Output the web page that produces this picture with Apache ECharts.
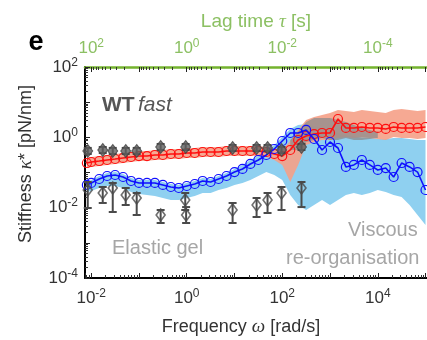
<!DOCTYPE html>
<html>
<head>
<meta charset="utf-8">
<script src="https://cdn.jsdelivr.net/npm/echarts@6.0.0/dist/echarts.min.js"></script>
<style>
  html, body { margin: 0; padding: 0; background: #fff; }
  #chart { width: 427px; height: 340px; }
</style>
</head>
<body>
<div id="chart"></div>
<script>
// frequency grid of the two fitted curves (rad/s)
const omega = [0.0081, 0.01, 0.0147, 0.0215, 0.0316, 0.0464, 0.0681, 0.1, 0.147, 0.215, 0.316, 0.464, 0.681,
  1, 1.47, 2.15, 3.16, 4.64, 6.81, 10, 14.7, 21.5, 31.6, 46.4, 68.1, 100, 147, 215, 316, 464, 681,
  1000, 1470, 2150, 3160, 4640, 6810, 10000, 14700, 21500, 31600, 46400, 68100, 100000];

// red curve and its band (pN/nm)
const stiffRed = [0.186, 0.199, 0.212, 0.227, 0.242, 0.259, 0.276, 0.294, 0.294, 0.315, 0.315, 0.336, 0.336,
  0.359, 0.359, 0.383, 0.383, 0.383, 0.409, 0.409, 0.409, 0.409, 0.409, 0.383, 0.336, 0.294, 0.437, 0.839,
  1.09, 1.24, 1.33, 1.33, 3.32, 1.85, 1.85, 1.97, 1.85, 1.85, 1.73, 1.97, 1.85, 1.85, 1.85, 1.97];
const redHi = [0.259, 0.276, 0.295, 0.315, 0.336, 0.359, 0.383, 0.409, 0.409, 0.436, 0.436, 0.466, 0.466,
  0.497, 0.497, 0.531, 0.531, 0.531, 0.567, 0.567, 0.567, 0.567, 0.567, 0.531, 0.466, 0.436, 0.787, 1.62,
  3.11, 3.79, 4.32, 4.92, 5.98, 5.61, 5.25, 5.98, 5.61, 5.25, 4.92, 5.98, 6.39, 5.98, 5.61, 5.98];
const redLo = [0.134, 0.144, 0.153, 0.164, 0.175, 0.186, 0.199, 0.212, 0.212, 0.227, 0.227, 0.242, 0.242,
  0.259, 0.259, 0.276, 0.276, 0.276, 0.295, 0.295, 0.295, 0.295, 0.295, 0.276, 0.227, 0.164, 0.0537, 0.164,
  0.605, 0.737, 0.84, 0.84, 0.958, 1.02, 0.958, 1.02, 0.958, 0.897, 0.84, 1.02, 0.958, 0.958, 0.897, 0.958];

// blue curve and its band
const stiffBlue = [0.0442, 0.0504, 0.0654, 0.0796, 0.0849, 0.0745, 0.0574, 0.0504, 0.0504, 0.0504, 0.0442,
  0.0387, 0.0363, 0.0413, 0.0471, 0.0574, 0.0537, 0.0654, 0.0796, 0.103, 0.126, 0.175, 0.227, 0.315, 0.466,
  0.787, 1.33, 1.33, 1.62, 0.897, 0.436, 0.737, 0.497, 0.144, 0.164, 0.227, 0.164, 0.118, 0.134, 0.0745,
  0.186, 0.144, 0.103, 0.0318];
const blueHi = [0.0537, 0.0612, 0.0796, 0.0968, 0.103, 0.0907, 0.0698, 0.0612, 0.0612, 0.0612, 0.0537,
  0.0471, 0.0441, 0.0503, 0.0574, 0.0698, 0.0655, 0.0796, 0.0968, 0.126, 0.164, 0.227, 0.295, 0.409, 0.605,
  1.02, 1.73, 2.24, 2.39, 2.1, 1.84, 1.62, 1.33, 1.17, 1.09, 0.958, 0.958, 0.897, 0.897, 0.958, 0.958,
  0.897, 0.84, 0.84];
const blueLo = [0.0279, 0.0298, 0.0363, 0.0413, 0.0413, 0.0363, 0.0279, 0.0245, 0.0229, 0.0215, 0.0188,
  0.0165, 0.0165, 0.0188, 0.0215, 0.0261, 0.0261, 0.0318, 0.0363, 0.0441, 0.0503, 0.0612, 0.0796, 0.103,
  0.0849, 0.0612, 0.0229, 0.0119, 0.00859, 0.0119, 0.0165, 0.0119, 0.0165, 0.0229, 0.0261, 0.0229, 0.0261,
  0.0318, 0.0279, 0.0229, 0.0201, 0.0119, 0.00619, 0.00322];

// grey band at high frequency
const omegaGrey = [147, 215, 316, 464, 681, 1000, 1470, 2150, 3160, 4640, 6810, 10000];
const greyHi = [0.84, 1.42, 2.73, 3.55, 3.55, 3.55, 3.11, 2.73, 2.24, 1.84, 1.62, 1.42];
const greyLo = [0.436, 0.436, 0.737, 0.84, 0.958, 0.84, 0.84, 0.958, 0.84, 0.84, 0.897, 0.958];

// filled diamonds (upper row)
const omegaUp = [0.00845, 0.0174, 0.0282, 0.0527, 0.0895, 0.284, 0.949, 9.12, 29.0, 49.2, 96.6, 253];
const stiffUp = [0.409, 0.436, 0.409, 0.409, 0.409, 0.531, 0.531, 0.497, 0.497, 0.497, 0.436, 0.531];
const upLo = [0.335, 0.357, 0.335, 0.335, 0.335, 0.435, 0.435, 0.407, 0.407, 0.407, 0.357, 0.435];
const upHi = [0.5, 0.532, 0.5, 0.5, 0.5, 0.648, 0.648, 0.606, 0.606, 0.606, 0.532, 0.648];

// open diamonds with error bars (lower row)
const omegaLow = [0.00845, 0.0174, 0.0282, 0.0527, 0.0895, 0.284, 0.93, 0.97, 9.12, 29.0, 49.2, 96.6, 253];
const stiffLow = [0.0318, 0.0261, 0.0363, 0.0229, 0.0188, 0.00619, 0.0165, 0.00619, 0.00859, 0.0119, 0.0165, 0.0261, 0.0363];
const lowLo = [0.0098, 0.0136, 0.00754, 0.0119, 0.00619, 0.00366, 0.00859, 0.00366, 0.00366, 0.00543, 0.00706, 0.00859, 0.0104];
const lowHi = [0.0537, 0.0387, 0.0503, 0.0363, 0.0261, 0.00859, 0.0261, 0.0104, 0.0136, 0.0188, 0.0261, 0.0387, 0.0537];

const omegaMin = 0.0074, omegaMax = 158000;
const FONT = "'Liberation Sans', Arial, sans-serif";

// minor log ticks: 2..9 x 10^n
const minorTicks = [];
for (let n = -6; n <= 6; n++) {
  for (let m = 2; m <= 9; m++) minorTicks.push(+(m * Math.pow(10, n)).toPrecision(3));
}

const chart = echarts.init(document.getElementById('chart'));

// labels only on even decades, written as 10^n
function powLabel(v) {
  const e = Math.log10(v);
  const r = Math.round(e);
  if (Math.abs(e - r) > 1e-6 || r % 2 !== 0) return '';
  return '{b|10}{s|' + r + '}';
}
function powRich(color) {
  return {
    b: { fontSize: 17, fontFamily: FONT, color: color },
    s: { fontSize: 12, fontFamily: FONT, color: color, padding: [0, 0, 9, 0] }
  };
}

function band(xs, lo, hi, color, z) {
  return {
    type: 'custom',
    z: z,
    silent: true,
    clip: true,
    encode: { x: 0, y: [1, 2] },
    data: xs.map((x, i) => [x, lo[i], hi[i]]),
    renderItem(params, api) {
      if (params.dataIndex !== 0) return null;
      const top = xs.map((x, i) => api.coord([x, hi[i]]));
      const bot = xs.map((x, i) => api.coord([x, lo[i]])).reverse();
      return { type: 'polygon', shape: { points: top.concat(bot) }, style: { fill: color } };
    }
  };
}

function errorBars(xs, lo, hi, z) {
  return {
    type: 'custom',
    z: z,
    silent: true,
    encode: { x: 0, y: [1, 2] },
    data: xs.map((x, i) => [x, lo[i], hi[i]]),
    renderItem(params, api) {
      const a = api.coord([api.value(0), api.value(1)]);
      const b = api.coord([api.value(0), api.value(2)]);
      const w = 4;
      const st = { stroke: '#4a4a4a', lineWidth: 2 };
      return {
        type: 'group',
        children: [
          { type: 'line', shape: { x1: a[0], y1: a[1], x2: b[0], y2: b[1] }, style: st },
          { type: 'line', shape: { x1: a[0] - w, y1: a[1], x2: a[0] + w, y2: a[1] }, style: st },
          { type: 'line', shape: { x1: b[0] - w, y1: b[1], x2: b[0] + w, y2: b[1] }, style: st }
        ]
      };
    }
  };
}

function curve(values, color, z) {
  return {
    type: 'line',
    z: z,
    data: omega.map((w, i) => [w, values[i]]),
    symbol: 'circle',
    symbolSize: 9,
    showAllSymbol: true,
    lineStyle: { color: color, width: 1.6 },
    itemStyle: { color: 'rgba(255,255,255,0)', borderColor: color, borderWidth: 1.2 },
    emphasis: { disabled: true }
  };
}

const tickCommon = { inside: true, length: 5, lineStyle: { color: '#222', width: 1 } };

// invisible axis that only carries the minor ticks
function minorAxis(extra) {
  return Object.assign({
    type: 'log', logBase: 10,
    axisLine: { show: false },
    axisLabel: { show: false },
    splitLine: { show: false },
    axisTick: { inside: true, length: 3, customValues: minorTicks, lineStyle: { color: '#333', width: 1 } }
  }, extra);
}

chart.setOption({
  animation: false,
  backgroundColor: '#fff',
  grid: { left: 85, top: 67, width: 350, height: 211, containLabel: false, outerBoundsMode: 'none' },
  xAxis: [
    {
      type: 'log', logBase: 10, position: 'bottom',
      min: omegaMin, max: omegaMax,
      axisLine: { lineStyle: { color: '#000', width: 2 } },
      axisTick: tickCommon,
      splitLine: { show: false },
      axisLabel: { formatter: powLabel, rich: powRich('#333'), margin: 10 }
    },
    {
      type: 'log', logBase: 10, position: 'top', inverse: true,
      min: 1 / omegaMax, max: 1 / omegaMin,
      axisLine: { lineStyle: { color: '#74b32e', width: 2.5 } },
      axisTick: tickCommon,
      splitLine: { show: false },
      axisLabel: { formatter: powLabel, rich: powRich('#8cc063'), margin: 8 }
    },
    minorAxis({ position: 'bottom', min: omegaMin, max: omegaMax }),
    minorAxis({ position: 'top', inverse: true, min: 1 / omegaMax, max: 1 / omegaMin })
  ],
  yAxis: [
    {
      type: 'log', logBase: 10, min: 1e-4, max: 100,
      axisLine: { lineStyle: { color: '#000', width: 2 } },
      axisTick: tickCommon,
      splitLine: { show: false },
      axisLabel: { formatter: powLabel, rich: powRich('#333'), margin: 7 }
    },
    minorAxis({ position: 'left', min: 1e-4, max: 100 })
  ],
  series: [
    band(omega, blueLo, blueHi, '#8fd0f0', 1),
    band(omega, redLo, redHi, 'rgba(245,160,135,0.9)', 2),
    band(omegaGrey, greyLo, greyHi, 'rgba(140,140,140,0.75)', 3),
    curve(stiffRed, '#ff1010', 4),
    curve(stiffBlue, '#1010ff', 5),
    errorBars(omegaLow, lowLo, lowHi, 6),
    {
      type: 'scatter', z: 7,
      data: omegaLow.map((w, i) => [w, stiffLow[i]]),
      symbol: 'diamond', symbolSize: [9, 12],
      itemStyle: { color: 'rgba(255,255,255,0)', borderColor: '#4a4a4a', borderWidth: 1.6 }
    },
    errorBars(omegaUp, upLo, upHi, 6),
    {
      type: 'scatter', z: 7,
      data: omegaUp.map((w, i) => [w, stiffUp[i]]),
      symbol: 'diamond', symbolSize: [10, 13],
      itemStyle: { color: '#5e5e5e', borderColor: '#444', borderWidth: 1 }
    }
  ],
  graphic: [
    { type: 'text', x: 36, y: 43, style: { text: 'e', font: 'bold 27px ' + FONT, fill: '#000', align: 'center', verticalAlign: 'middle' } },
    {
      type: 'text', x: 256, y: 22,
      style: {
        text: '{n|Lag time }{i|τ}{n| [s]}', align: 'center', verticalAlign: 'middle',
        rich: { n: { fontSize: 19, fontFamily: FONT, fill: '#8cc063' }, i: { fontSize: 19, fontFamily: "'Liberation Serif', serif", fontStyle: 'italic', fill: '#8cc063' } }
      }
    },
    {
      type: 'text', x: 241, y: 327,
      style: {
        text: '{n|Frequency }{i|ω}{n| [rad/s]}', align: 'center', verticalAlign: 'middle',
        rich: { n: { fontSize: 18, fontFamily: FONT, fill: '#333' }, i: { fontSize: 19, fontFamily: "'Liberation Serif', serif", fontStyle: 'italic', fill: '#333' } }
      }
    },
    {
      type: 'text', x: 26, y: 164, rotation: Math.PI / 2,
      style: {
        text: '{n|Stiffness }{i|κ}{n|* [pN/nm]}', align: 'center', verticalAlign: 'middle',
        rich: { n: { fontSize: 18, fontFamily: FONT, fill: '#333' }, i: { fontSize: 19, fontFamily: "'Liberation Serif', serif", fontStyle: 'italic', fill: '#333' } }
      }
    },
    {
      type: 'text', x: 102, y: 105, z: 10,
      style: {
        text: '{b|WT} {i|fast}', verticalAlign: 'middle',
        rich: { b: { fontSize: 21, fontWeight: 'bold', fontFamily: FONT, fill: '#555' }, i: { fontSize: 21, fontStyle: 'italic', fontFamily: FONT, fill: '#555' } }
      }
    },
    { type: 'text', x: 112, y: 248, z: 10, style: { text: 'Elastic gel', font: '20px ' + FONT, fill: '#a6a6a6', verticalAlign: 'middle' } },
    { type: 'text', x: 348, y: 230, z: 10, style: { text: 'Viscous', font: '20px ' + FONT, fill: '#a6a6a6', verticalAlign: 'middle' } },
    { type: 'text', x: 286, y: 258, z: 10, style: { text: 're-organisation', font: '20px ' + FONT, fill: '#a6a6a6', verticalAlign: 'middle' } }
  ]
});
</script>
</body>
</html>
